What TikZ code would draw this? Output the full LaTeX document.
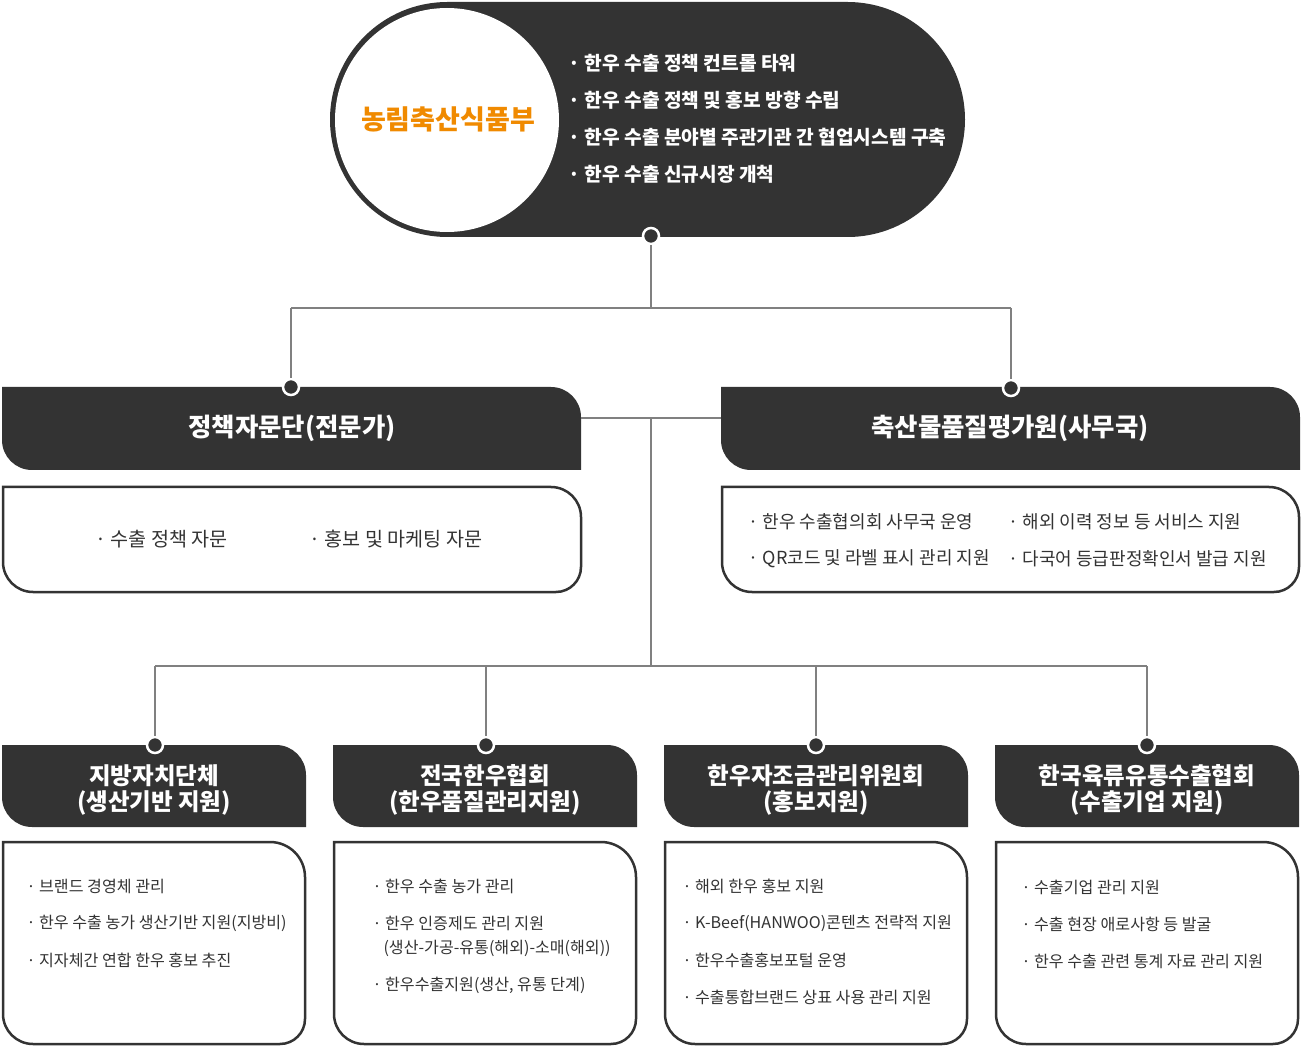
\documentclass[tikz,border=0pt]{standalone}
\usepackage{fontspec}
\setmainfont{Noto Sans CJK KR}
\definecolor{ink}{HTML}{333333}
\definecolor{hanwoo}{HTML}{F08A00}
\begin{document}
\begin{tikzpicture}[x=1pt, y=-1pt, dark/.style={fill=ink}, outline/.style={draw=ink, line width=2.5pt, fill=white}, wire/.style={draw=black!50, line width=1.2pt}, dot/.style={circle, fill=ink, draw=white, line width=2.5pt, minimum size=16pt, inner sep=0pt}, title/.style={text=white, align=center, font=\bfseries\fontsize{23.5}{26}\selectfont}, bigtitle/.style={text=white, font=\bfseries\fontsize{25.4}{30}\selectfont}, topitem/.style={anchor=west, text=white, font=\bfseries\fontsize{19.2}{23}\selectfont}, miditem/.style={anchor=west, text=ink, font=\fontsize{18}{21}\selectfont}, item/.style={anchor=west, text=ink, font=\fontsize{16.1}{19}\selectfont}]
      \useasboundingbox (0,0) rectangle (1302,1048);

      % top
      \fill[dark] (447.5,2) -- (847.5,2) arc[start angle=-90, end angle=90, radius=117.5] -- (447.5,237) arc[start angle=90, end angle=270, radius=117.5] -- cycle;
      \fill[white] (447,120) circle[radius=112];
      \node[text=hanwoo, font=\bfseries\fontsize{27}{32}\selectfont] (moaf) at (448,119) {농림축산식품부};
      \node[topitem] (t1) at (565,63) {· 한우 수출 정책 컨트롤 타워};
      \node[topitem] (t2) at (565,100) {· 한우 수출 정책 및 홍보 방향 수립};
      \node[topitem] (t3) at (565,137) {· 한우 수출 분야별 주관기관 간 협업시스템 구축};
      \node[topitem] (t4) at (565,174) {· 한우 수출 신규시장 개척};

      % middle row
      \fill[dark] (2,387) -- (551,387) arc[start angle=-90, end angle=0, radius=30] -- (581,470) -- (32,470) arc[start angle=90, end angle=180, radius=30] -- cycle;
      \fill[dark] (721,387) -- (1270,387) arc[start angle=-90, end angle=0, radius=30] -- (1300,470) -- (751,470) arc[start angle=90, end angle=180, radius=30] -- cycle;
      \draw[outline] (3,487) -- (551,487) arc[start angle=-90, end angle=0, radius=30] -- (581,567) arc[start angle=0, end angle=90, radius=25] -- (33,592) arc[start angle=90, end angle=180, radius=30] -- cycle;
      \draw[outline] (722,487) -- (1269,487) arc[start angle=-90, end angle=0, radius=30] -- (1299,567) arc[start angle=0, end angle=90, radius=25] -- (752,592) arc[start angle=90, end angle=180, radius=30] -- cycle;
      \node[bigtitle] (panel) at (292,428) {정책자문단(전문가)};
      \node[bigtitle] (kape) at (1010,428) {축산물품질평가원(사무국)};
      \node[miditem, font=\fontsize{19.6}{23}\selectfont] (p1) at (92,539) {· 수출 정책 자문};
      \node[miditem, font=\fontsize{19.6}{23}\selectfont] (p2) at (306,539) {· 홍보 및 마케팅 자문};
      \node[miditem] (k1) at (745,522) {· 한우 수출협의회 사무국 운영};
      \node[miditem] (k2) at (1005,522) {· 해외 이력 정보 등 서비스 지원};
      \node[miditem] (k3) at (745,559) {· QR코드 및 라벨 표시 관리 지원};
      \node[miditem] (k4) at (1005,559) {· 다국어 등급판정확인서 발급 지원};

      % bottom row
      \fill[dark] (2,745) -- (276,745) arc[start angle=-90, end angle=0, radius=30] -- (306,827) -- (32,827) arc[start angle=90, end angle=180, radius=30] -- cycle;
      \fill[dark] (333,745) -- (607,745) arc[start angle=-90, end angle=0, radius=30] -- (637,827) -- (363,827) arc[start angle=90, end angle=180, radius=30] -- cycle;
      \fill[dark] (664,745) -- (938,745) arc[start angle=-90, end angle=0, radius=30] -- (968,827) -- (694,827) arc[start angle=90, end angle=180, radius=30] -- cycle;
      \fill[dark] (995,745) -- (1269,745) arc[start angle=-90, end angle=0, radius=30] -- (1299,827) -- (1025,827) arc[start angle=90, end angle=180, radius=30] -- cycle;
      \draw[outline] (3,842) -- (270,842) arc[start angle=-90, end angle=0, radius=35] -- (305,1019) arc[start angle=0, end angle=90, radius=25] -- (33,1044) arc[start angle=90, end angle=180, radius=30] -- cycle;
      \draw[outline] (334,842) -- (601,842) arc[start angle=-90, end angle=0, radius=35] -- (636,1019) arc[start angle=0, end angle=90, radius=25] -- (364,1044) arc[start angle=90, end angle=180, radius=30] -- cycle;
      \draw[outline] (665,842) -- (932,842) arc[start angle=-90, end angle=0, radius=35] -- (967,1019) arc[start angle=0, end angle=90, radius=25] -- (695,1044) arc[start angle=90, end angle=180, radius=30] -- cycle;
      \draw[outline] (996,842) -- (1263,842) arc[start angle=-90, end angle=0, radius=35] -- (1298,1019) arc[start angle=0, end angle=90, radius=25] -- (1026,1044) arc[start angle=90, end angle=180, radius=30] -- cycle;
      \node[title] (local) at (154,790) {지방자치단체\\(생산기반 지원)};
      \node[title] (assoc) at (485,790) {전국한우협회\\(한우품질관리지원)};
      \node[title] (fund) at (816,790) {한우자조금관리위원회\\(홍보지원)};
      \node[title] (export) at (1147,790) {한국육류유통수출협회\\(수출기업 지원)};
      \node[item] (l1) at (23,886) {· 브랜드 경영체 관리};
      \node[item] (l2) at (23,923) {· 한우 수출 농가 생산기반 지원(지방비)};
      \node[item] (l3) at (23,960) {· 지자체간 연합 한우 홍보 추진};
      \node[item] (a1) at (369,886) {· 한우 수출 농가 관리};
      \node[item] (a2) at (369,923) {· 한우 인증제도 관리 지원};
      \node[item] (a3) at (380,948) {(생산-가공-유통(해외)-소매(해외))};
      \node[item] (a4) at (369,985) {· 한우수출지원(생산, 유통 단계)};
      \node[item] (f1) at (679,886) {· 해외 한우 홍보 지원};
      \node[item] (f2) at (679,923) {· K-Beef(HANWOO)콘텐츠 전략적 지원};
      \node[item] (f3) at (679,960) {· 한우수출홍보포털 운영};
      \node[item] (f4) at (679,997) {· 수출통합브랜드 상표 사용 관리 지원};
      \node[item] (e1) at (1018,887) {· 수출기업 관리 지원};
      \node[item] (e2) at (1018,924) {· 수출 현장 애로사항 등 발굴};
      \node[item] (e3) at (1018,961) {· 한우 수출 관련 통계 자료 관리 지원};

      % connectors
      \node[dot] (d0) at (651,236) {};
      \node[dot] (d1) at (291,387) {};
      \node[dot] (d2) at (1011,388) {};
      \node[dot] (d3) at (155,745) {};
      \node[dot] (d4) at (486,745) {};
      \node[dot] (d5) at (816,745) {};
      \node[dot] (d6) at (1147,745) {};
      \coordinate (j0) at (651,308);
      \coordinate (j1) at (291,308);
      \coordinate (j2) at (1011,308);
      \coordinate (pe) at (581,418);
      \coordinate (kw) at (721,418);
      \coordinate (j3) at (651,418);
      \coordinate (j4) at (651,666);
      \coordinate (j5) at (155,666);
      \coordinate (j6) at (486,666);
      \coordinate (j7) at (816,666);
      \coordinate (j8) at (1147,666);
      \draw[wire] (d0) -- (j0);
      \draw[wire] (j1) -- (j2);
      \draw[wire] (j1) -- (d1);
      \draw[wire] (j2) -- (d2);
      \draw[wire] (pe) -- (kw);
      \draw[wire] (j3) -- (j4);
      \draw[wire] (j5) -- (j8);
      \draw[wire] (j5) -- (d3);
      \draw[wire] (j6) -- (d4);
      \draw[wire] (j7) -- (d5);
      \draw[wire] (j8) -- (d6);
    \end{tikzpicture}
\end{document}
